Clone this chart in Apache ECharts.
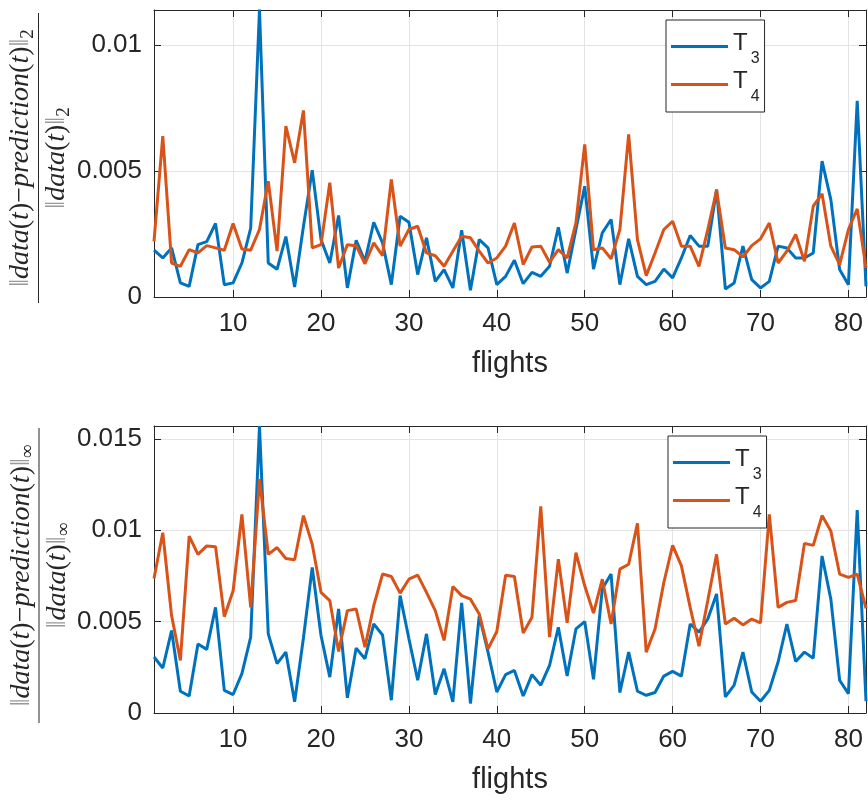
<!DOCTYPE html>
<html><head><meta charset="utf-8">
<script src="https://cdn.jsdelivr.net/npm/echarts@6/dist/echarts.min.js"></script>
<style>html,body{margin:0;padding:0;background:#fff}#c{width:868px;height:804px}</style>
</head><body><div id="c"></div><script>
const flights = [1,2,3,4,5,6,7,8,9,10,11,12,13,14,15,16,17,18,19,20,21,22,23,24,25,26,27,28,29,30,31,32,33,34,35,36,37,38,39,40,41,42,43,44,45,46,47,48,49,50,51,52,53,54,55,56,57,58,59,60,61,62,63,64,65,66,67,68,69,70,71,72,73,74,75,76,77,78,79,80,81,82];

// relative 2-norm error
const l2_T3 = [0.00186,0.00155,0.00195,0.00056,0.00042,0.00208,0.0022,0.00292,0.00049,0.00056,
0.00135,0.00274,0.01142,0.00135,0.0011,0.0024,0.0004,0.0028,0.00504,0.00228,
0.00135,0.00324,0.00036,0.00225,0.00142,0.00297,0.00215,0.00049,0.00321,0.00297,
0.00089,0.00235,0.00062,0.00109,0.00036,0.00265,0.00027,0.00228,0.00195,0.00049,
0.00082,0.00146,0.00053,0.00098,0.00082,0.00122,0.00277,0.00095,0.00268,0.0044,
0.00111,0.00255,0.00308,0.00049,0.00231,0.00082,0.00049,0.00062,0.00111,0.00076,
0.00155,0.00244,0.00202,0.00202,0.00427,0.00032,0.00056,0.00202,0.00069,0.00036,
0.00062,0.00202,0.00195,0.00155,0.00155,0.00175,0.0054,0.00387,0.00109,0.00049,
0.00779,0.00042];
const l2_T4 = [0.00221,0.00639,0.00135,0.00122,0.00188,0.00175,0.00204,0.00195,0.00186,0.00292,
0.00191,0.00186,0.00268,0.0046,0.00182,0.00679,0.00533,0.00741,0.00195,0.00208,
0.00454,0.00115,0.00208,0.00204,0.00132,0.00215,0.00164,0.00467,0.00202,0.00268,
0.00281,0.00175,0.00164,0.00122,0.00182,0.00241,0.00235,0.00182,0.00135,0.00155,
0.00202,0.00294,0.00129,0.00199,0.00202,0.00138,0.00188,0.00155,0.00294,0.00606,
0.00188,0.00195,0.00152,0.00268,0.00646,0.00228,0.00085,0.00175,0.00268,0.00301,
0.00202,0.00202,0.00122,0.00268,0.00424,0.00195,0.00188,0.00159,0.00204,0.00231,
0.00294,0.00135,0.00182,0.00248,0.00142,0.00361,0.0041,0.00202,0.00129,0.00268,
0.0035,0.00115];

// relative infinity-norm error
const linf_T3 = [0.00306,0.00246,0.00451,0.00119,0.00093,0.00378,0.00348,0.00578,0.00124,0.00101,
0.00215,0.00415,0.0157,0.00433,0.0027,0.00333,0.00061,0.0041,0.00796,0.00424,
0.00196,0.00569,0.00083,0.00355,0.00297,0.00487,0.00427,0.0007,0.00642,0.00406,
0.00179,0.00433,0.00101,0.00242,0.00061,0.00602,0.00052,0.00533,0.00333,0.00115,
0.0021,0.00233,0.00093,0.0021,0.00152,0.0026,0.00469,0.00202,0.0046,0.005,
0.00184,0.0068,0.0076,0.00112,0.00333,0.00119,0.00097,0.00112,0.00202,0.00228,
0.00202,0.00487,0.00442,0.00514,0.00651,0.00088,0.00152,0.00333,0.00115,0.00064,
0.00124,0.00279,0.00487,0.00282,0.00333,0.003,0.00859,0.00623,0.00179,0.00106,
0.0111,0.00064];
const linf_T4 = [0.00736,0.00986,0.00533,0.00288,0.00968,0.00868,0.00914,0.0091,0.00527,0.00669,
0.01086,0.00578,0.0128,0.00868,0.00905,0.00845,0.00838,0.0108,0.00923,0.0066,
0.00615,0.00337,0.0056,0.00569,0.0036,0.00587,0.0076,0.00747,0.00656,0.00732,
0.00754,0.0066,0.0056,0.00397,0.00692,0.00642,0.00623,0.00542,0.00351,0.00446,
0.00754,0.00747,0.00438,0.00524,0.01131,0.00415,0.00841,0.00493,0.00877,0.00696,
0.00547,0.00732,0.00487,0.00787,0.00814,0.01037,0.00333,0.0046,0.00714,0.00917,
0.00805,0.00578,0.00366,0.00615,0.00868,0.00487,0.00518,0.00482,0.00514,0.00493,
0.01086,0.00578,0.00605,0.00615,0.00928,0.00917,0.0108,0.00995,0.0076,0.00742,
0.0076,0.00573];

const seriesNames = ['T3','T4'];
const xTickValues = [10,20,30,40,50,60,70,80];
const xRange = [1,82];
const yTicksTop = [0,0.005,0.01];
const yTicksBottom = [0,0.005,0.01,0.015];
const yMaxTop = 0.0114;
const yMaxBottom = 0.0157;
const xTitle = 'flights';

const C_BLUE = '#0072BD', C_ORANGE = '#D95319', AX = '#262626', GRIDC = '#e3e3e3';
const SANS = '"Liberation Sans", Arial, Helvetica, sans-serif';
const SERIF = '"Liberation Serif", "Times New Roman", serif';

function xAxis(gi, pos, labels) {
  return {
    type: 'value', gridIndex: gi, position: pos, min: xRange[0], max: xRange[1],
    axisLine: {show: true, onZero: false, lineStyle: {color: AX, width: 1}},
    axisTick: {show: true, inside: true, length: 7, customValues: xTickValues, lineStyle: {color: AX}},
    axisLabel: {show: labels, customValues: xTickValues, margin: 14, fontSize: 26, color: AX, fontFamily: SANS},
    splitLine: {show: labels, lineStyle: {color: GRIDC, width: 1}},
    name: labels ? xTitle : '', nameLocation: 'middle', nameGap: 52,
    nameTextStyle: {fontSize: 29, color: AX, fontFamily: SANS}
  };
}
function yAxis(gi, pos, labels, ticks, max) {
  return {
    type: 'value', gridIndex: gi, position: pos, min: 0, max: max,
    axisLine: {show: true, onZero: false, lineStyle: {color: AX, width: 1}},
    axisTick: {show: true, inside: true, length: 7, customValues: ticks, lineStyle: {color: AX}},
    axisLabel: {show: labels, customValues: ticks, margin: 12, fontSize: 26, color: AX, fontFamily: SANS},
    splitLine: {show: labels, lineStyle: {color: GRIDC, width: 1}}
  };
}
function line(name, xi, yi, vals, color) {
  return {
    name: name, type: 'line', xAxisIndex: xi, yAxisIndex: yi, symbol: 'none',
    lineStyle: {color: color, width: 3}, itemStyle: {color: color},
    data: flights.map((f, i) => [f, vals[i]]), animation: false
  };
}
function legend(left, top) {
  return {
    data: seriesNames, orient: 'vertical', left: left, top: top,
    icon: 'rect', itemWidth: 57, itemHeight: 3, itemGap: -3,
    padding: [6, 5, 7, 5], borderColor: AX, borderWidth: 1, backgroundColor: '#fff',
    selectedMode: false,
    formatter: n => '{t|T}{s|' + n.slice(1) + '}',
    textStyle: {
      color: AX,
      rich: {
        t: {fontSize: 24, lineHeight: 48, fontFamily: SANS, color: AX, padding: [0, 0, 6, 0]},
        s: {fontSize: 16, lineHeight: 48, fontFamily: SANS, color: AX, padding: [25, 0, 0, 3]}
      }
    }
  };
}
function fracLabel(cx, cy, sub, barLen) {
  const rich = {
    b: {fontSize: 28, fontFamily: SERIF, fill: '#9a9a9a'},
    i: {fontSize: 28, fontFamily: SERIF, fontStyle: 'italic', fill: AX},
    r: {fontSize: 28, fontFamily: SERIF, fill: AX},
    s: {fontSize: 19, fontFamily: SERIF, fill: AX, padding: [14, 0, 0, 0]}
  };
  return {
    type: 'group', x: cx, y: cy, rotation: Math.PI / 2,
    children: [
      {type: 'text', x: 0, y: -1, style: {
        text: '{b|‖}{i|data}{r|(}{i|t}{r|)−}{i|prediction}{r|(}{i|t}{r|)}{b|‖}{s|' + sub + '}',
        rich: rich, align: 'center', verticalAlign: 'bottom'}},
      {type: 'line', shape: {x1: -barLen / 2, y1: 0, x2: barLen / 2, y2: 0}, style: {stroke: AX, lineWidth: 1}},
      {type: 'text', x: 0, y: 2, style: {
        text: '{b|‖}{i|data}{r|(}{i|t}{r|)}{b|‖}{s|' + sub + '}',
        rich: rich, align: 'center', verticalAlign: 'top'}}
    ]
  };
}

const chart = echarts.init(document.getElementById('c'), null, {renderer: 'canvas'});
chart.setOption({
  animation: false,
  backgroundColor: '#fff',
  grid: [
    {left: 154, top: 10, width: 712, height: 287},
    {left: 154, top: 426, width: 712, height: 287}
  ],
  xAxis: [xAxis(0, 'bottom', true), xAxis(0, 'top', false), xAxis(1, 'bottom', true), xAxis(1, 'top', false)],
  yAxis: [yAxis(0, 'left', true, yTicksTop, yMaxTop), yAxis(0, 'right', false, yTicksTop, yMaxTop),
          yAxis(1, 'left', true, yTicksBottom, yMaxBottom), yAxis(1, 'right', false, yTicksBottom, yMaxBottom)],
  legend: [legend(666, 20), legend(668, 436)],
  series: [
    line(seriesNames[0], 0, 0, l2_T3, C_BLUE),
    line(seriesNames[1], 0, 0, l2_T4, C_ORANGE),
    line(seriesNames[0], 2, 2, linf_T3, C_BLUE),
    line(seriesNames[1], 2, 2, linf_T4, C_ORANGE)
  ],
  graphic: [fracLabel(38.5, 158, '2', 290), fracLabel(39, 575.5, '∞', 295)]
});
</script></body></html>
